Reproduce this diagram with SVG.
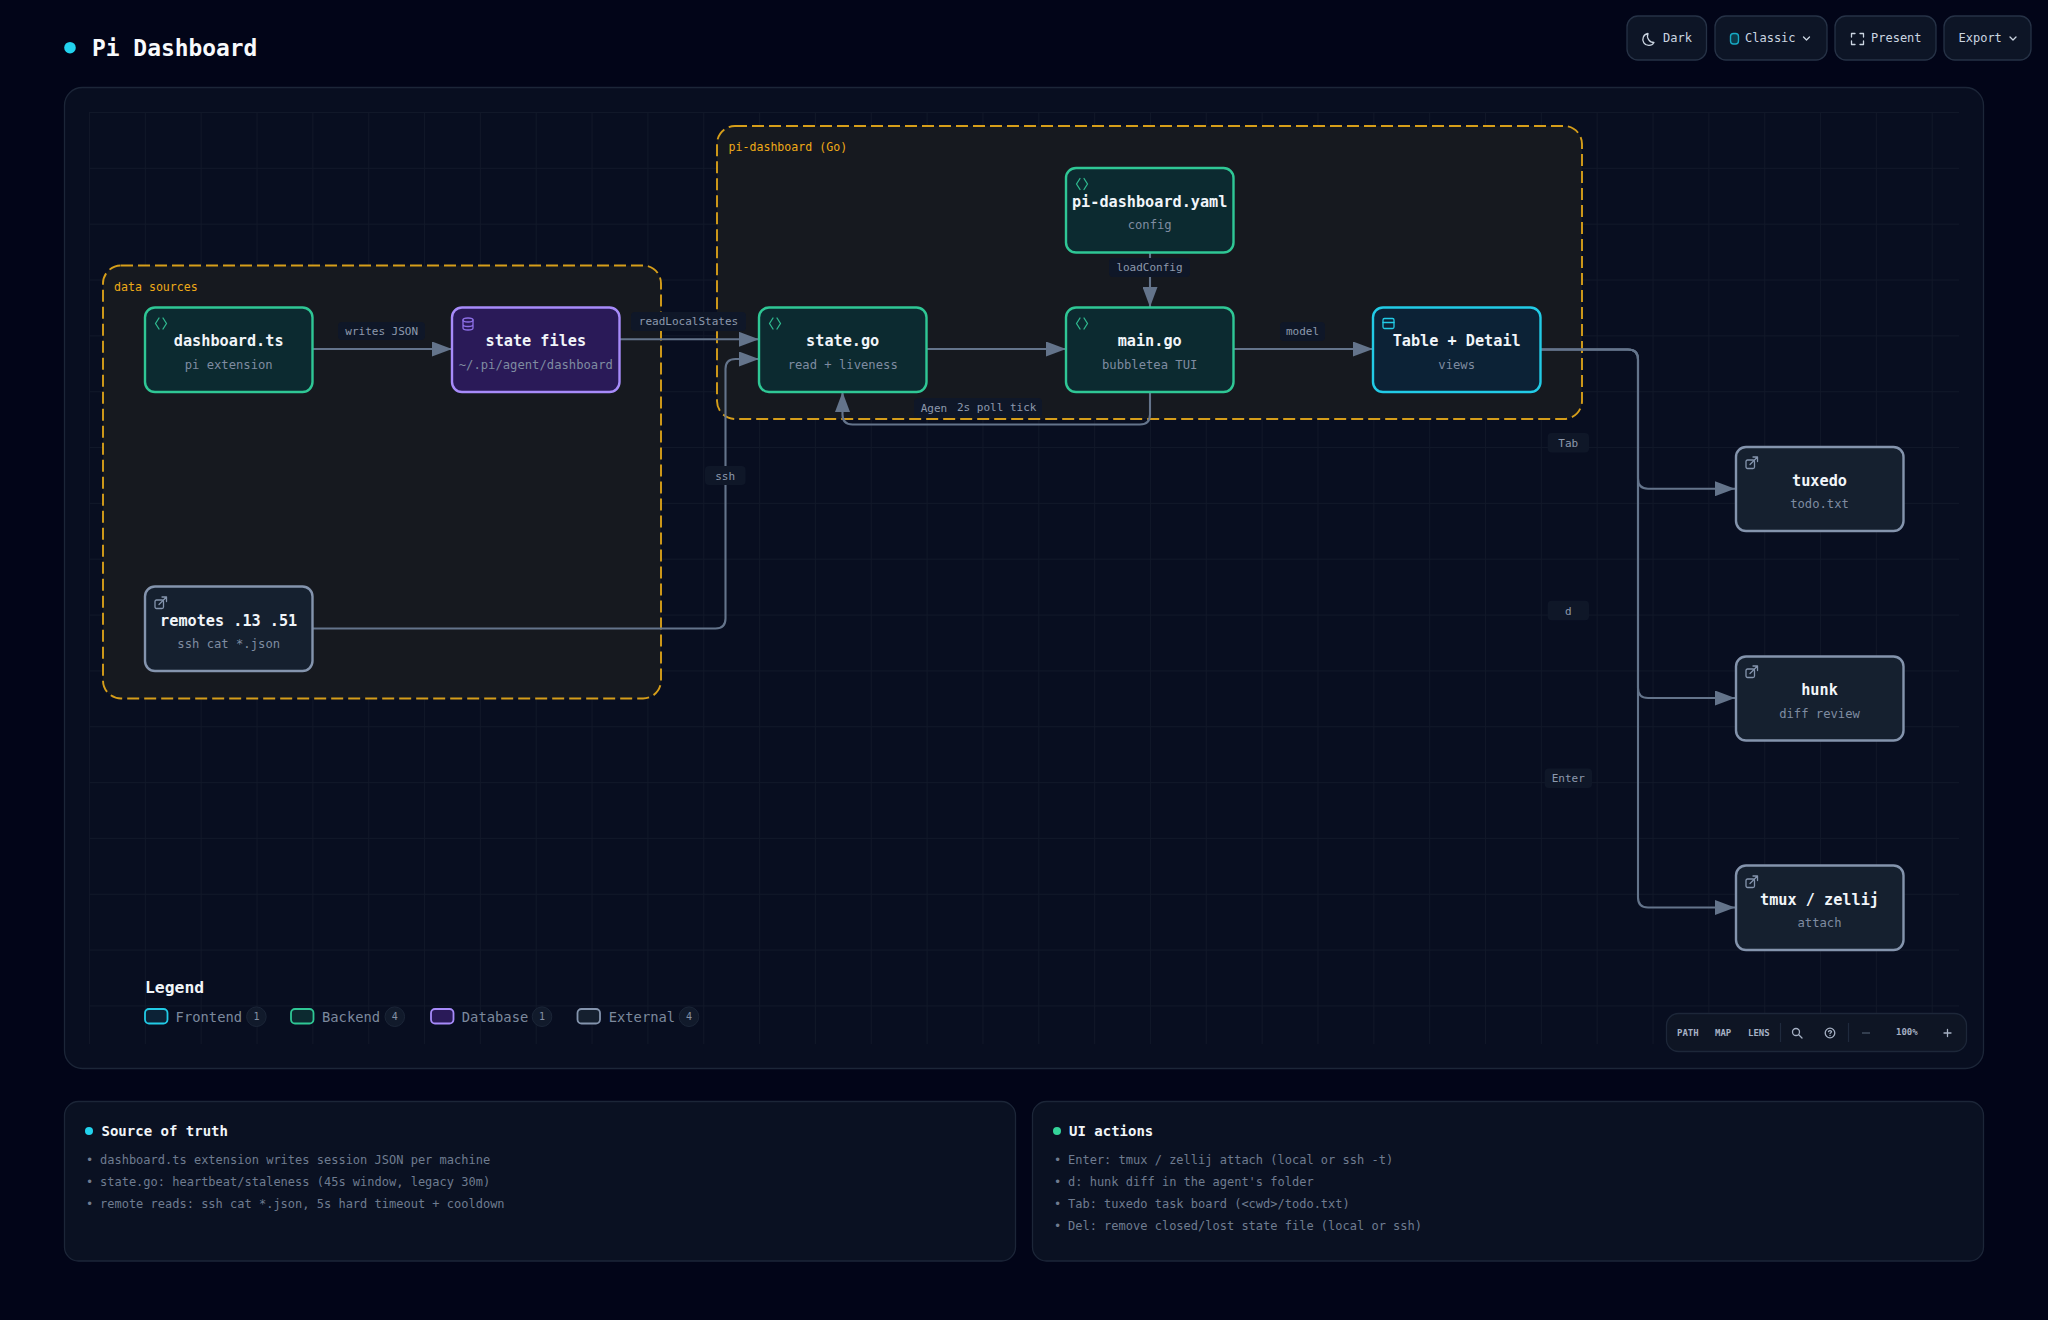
<svg xmlns="http://www.w3.org/2000/svg" xmlns:xlink="http://www.w3.org/1999/xlink" width="2048" height="1320" viewBox="0 0 2048 1320">
<style>
text{font-family:"DejaVu Sans Mono","Liberation Mono",monospace}
.panel{fill:#080e20;stroke:#1c2638;stroke-width:1.3}
.card{fill:#0a1122;stroke:#1c2638;stroke-width:1.3}
.btn{fill:#0d1526;stroke:#263246;stroke-width:1.3}
.btnt{font-size:12px;font-weight:500;fill:#cbd5e1}
.group{fill:#16191f;stroke:#d69e1a;stroke-width:1.9;stroke-dasharray:12 5}
.gl{font-size:11.6px;fill:#eeaa18}
.n{stroke-width:2.4}
.be{fill:#0c2a30;stroke:#2fc795}
.db{fill:#2a1a58;stroke:#a78bfa}
.ex{fill:#15202f;stroke:#8494ad}
.fe{fill:#0c2236;stroke:#22cbe6}
.t{font-size:15.2px;font-weight:700;fill:#f1f5f9;text-anchor:middle}
.s{font-size:12.2px;fill:#7f8ca1;text-anchor:middle}
.c{fill:none;stroke:#64748b;stroke-width:2.1;marker-end:url(#a)}
.lb{fill:#0f1728}
.lt{font-size:11px;fill:#8d99ad;text-anchor:middle}
.ic{fill:none;stroke-width:1.3;stroke-linecap:round;stroke-linejoin:round}
.ct{font-size:14px;font-weight:700;fill:#f1f5f9}
.li{font-size:12px;fill:#6f7c90}
.lg{font-size:13.8px;fill:#7c899d}
.bd{fill:#111a2b;stroke:#1b2537}
.bt{font-size:10px;fill:#8591a5;text-anchor:middle}
.sw{stroke-width:1.8}
.tb{font-size:9px;font-weight:700;fill:#a6b1c4}
.ti{fill:none;stroke:#a6b1c4;stroke-width:1.3;stroke-linecap:round}
</style>
<defs>
<marker id="a" markerUnits="userSpaceOnUse" markerWidth="20" markerHeight="15" refX="20" refY="7.5" orient="auto"><path d="M0 0L20 7.5L0 15Z" fill="#64748b"/></marker>
<pattern id="grid" patternUnits="userSpaceOnUse" x="89" y="112" width="55.84" height="55.84"><path d="M55.84 0H0V55.84" fill="none" stroke="#111829" stroke-width="1.800"/></pattern>
<g id="code"><path d="M4 0L0.500 5.500L4 11M8 0L11.500 5.500L8 11"/></g>
<g id="ext"><rect x="0" y="3" width="8.500" height="8.500" rx="1.500"/><path d="M4 7.500L11.500 0M7 0H11.500V4.500"/></g>
</defs>
<rect width="2048" height="1320" fill="#020518"/>

<g id="header">
<circle cx="70" cy="47.700" r="5.800" fill="#22d3ee"/>
<text x="92" y="56" font-size="22.900" font-weight="700" fill="#f8fafc">Pi Dashboard</text>
</g>
<g id="toolbar-top">
<rect class="btn" x="1627" y="16" width="79.500" height="44" rx="11"/>
<path class="ic" stroke="#cbd5e1" d="M1648 33.500A6 6 0 1 0 1654 42.500A6.500 6.500 0 0 1 1648 33.500Z"/>
<text class="btnt" x="1663" y="42">Dark</text>
<rect class="btn" x="1715" y="16" width="112" height="44" rx="11"/>
<rect x="1730.500" y="33.500" width="8" height="10.500" rx="3" fill="#0b3a4a" stroke="#17a9c4" stroke-width="1.400"/>
<text class="btnt" x="1745" y="42">Classic</text>
<path class="ic" stroke="#cbd5e1" d="M1803.500 37L1806.500 40L1809.500 37"/>
<rect class="btn" x="1835" y="16" width="101" height="44" rx="11"/>
<path class="ic" stroke="#cbd5e1" d="M1851.500 37V33.500H1855M1860 33.500H1863.500V37M1863.500 41V44.500H1860M1855 44.500H1851.500V41"/>
<text class="btnt" x="1871" y="42">Present</text>
<rect class="btn" x="1944" y="16" width="87" height="44" rx="11"/>
<text class="btnt" x="1958.500" y="42">Export</text>
<path class="ic" stroke="#cbd5e1" d="M2010 37L2013 40L2016 37"/>
</g>

<g id="canvas">
<rect class="panel" x="64.500" y="87.500" width="1919" height="981" rx="18"/>
<rect x="89" y="112" width="1870" height="932" fill="url(#grid)"/>
</g>

<g id="group-data-sources"><rect class="group" x="103" y="265.500" width="558" height="433" rx="18"/><text class="gl" x="114" y="291">data sources</text></g>
<g id="group-pi-dashboard"><rect class="group" x="717" y="126" width="865" height="293" rx="18"/><text class="gl" x="728.500" y="151">pi-dashboard (Go)</text></g>

<g id="connectors">
<path class="c" d="M313 349H452"/>
<path class="c" d="M620 339.300H759"/>
<path class="c" d="M313 628.500H715.500Q725.500 628.500 725.500 618.500V369Q725.500 359 735.500 359H759"/>
<path class="c" d="M926 349H1066"/>
<path class="c" d="M1150 252V307"/>
<path class="c" d="M1233 349H1373"/>
<path class="c" d="M1150 392V414.500Q1150 424.500 1140 424.500H852.500Q842.500 424.500 842.500 414.500V392"/>
<path class="c" d="M1540 349.500H1628Q1638 349.500 1638 359.500V478.500Q1638 488.700 1648 488.700H1735"/>
<path class="c" d="M1540 349.500H1628Q1638 349.500 1638 359.500V688Q1638 698 1648 698H1735"/>
<path class="c" d="M1540 349.500H1628Q1638 349.500 1638 359.500V897.500Q1638 907.500 1648 907.500H1735"/>
<g id="edge-labels">
<rect class="lb" x="338" y="322" width="87" height="18" rx="4"/><text class="lt" x="381.700" y="335">writes JSON</text>
<rect class="lb" x="631" y="312" width="115" height="19" rx="4"/><text class="lt" x="688.500" y="325">readLocalStates</text>
<rect class="lb" x="1109" y="258" width="81" height="19" rx="4"/><text class="lt" x="1149.500" y="271">loadConfig</text>
<rect class="lb" x="1280" y="322" width="45" height="19" rx="4"/><text class="lt" x="1302.500" y="335">model</text>
<rect class="lb" x="914" y="398" width="128" height="19.500" rx="4"/><text class="lt" x="934" y="412">Agen</text><text class="lt" x="996.700" y="411">2s poll tick</text>
<rect class="lb" x="705" y="466" width="40.500" height="19" rx="4"/><text class="lt" x="725.200" y="480">ssh</text>
<rect class="lb" x="1547.700" y="433" width="41.300" height="19.500" rx="4"/><text class="lt" x="1568.300" y="447">Tab</text>
<rect class="lb" x="1547.700" y="600.700" width="41.300" height="19.500" rx="4"/><text class="lt" x="1568.300" y="614.500">d</text>
<rect class="lb" x="1544.700" y="768.500" width="47.300" height="19.500" rx="4"/><text class="lt" x="1568.300" y="782">Enter</text>
</g>
</g>

<g id="node-dashboard-ts"><rect class="n be" x="145" y="307.500" width="167.500" height="84.500" rx="10"/><use href="#code" x="155" y="318" class="ic" stroke="#2fb98f"/><text class="t" x="228.700" y="346">dashboard.ts</text><text class="s" x="228.700" y="369">pi extension</text></g>
<g id="node-state-files"><rect class="n db" x="452" y="307.500" width="167.500" height="84.500" rx="10"/><g class="ic" stroke="#8d6fe6"><ellipse cx="468" cy="320" rx="5" ry="2"/><path d="M463 320V328Q463 330 468 330T473 328V320M463 324.500Q463 326.500 468 326.500T473 324.500"/></g><text class="t" x="535.800" y="346">state files</text><text class="s" x="535.800" y="369">~/.pi/agent/dashboard</text></g>
<g id="node-state-go"><rect class="n be" x="759" y="307.500" width="167.500" height="84.500" rx="10"/><use href="#code" x="769" y="318" class="ic" stroke="#2fb98f"/><text class="t" x="842.700" y="346">state.go</text><text class="s" x="842.700" y="369">read + liveness</text></g>
<g id="node-main-go"><rect class="n be" x="1066" y="307.500" width="167.500" height="84.500" rx="10"/><use href="#code" x="1076" y="318" class="ic" stroke="#2fb98f"/><text class="t" x="1149.700" y="346">main.go</text><text class="s" x="1149.700" y="369">bubbletea TUI</text></g>
<g id="node-pi-dashboard-yaml"><rect class="n be" x="1066" y="168" width="167.500" height="84.500" rx="10"/><use href="#code" x="1076" y="178.500" class="ic" stroke="#2fb98f"/><text class="t" x="1149.700" y="207">pi-dashboard.yaml</text><text class="s" x="1149.700" y="229">config</text></g>
<g id="node-table-detail"><rect class="n fe" x="1373" y="307.500" width="167.500" height="84.500" rx="10"/><g class="ic" stroke="#22cbe6"><rect x="1383" y="318.500" width="11" height="10" rx="1.500"/><path d="M1383 322.500H1394"/></g><text class="t" x="1456.700" y="346">Table + Detail</text><text class="s" x="1456.700" y="369">views</text></g>
<g id="node-remotes"><rect class="n ex" x="145" y="586.500" width="167.500" height="84.500" rx="10"/><use href="#ext" x="155" y="597" class="ic" stroke="#8494ad"/><text class="t" x="228.700" y="626">remotes .13 .51</text><text class="s" x="228.700" y="648">ssh cat *.json</text></g>
<g id="node-tuxedo"><rect class="n ex" x="1736" y="447" width="167.500" height="84" rx="10"/><use href="#ext" x="1746" y="457" class="ic" stroke="#8494ad"/><text class="t" x="1819.500" y="486">tuxedo</text><text class="s" x="1819.500" y="508">todo.txt</text></g>
<g id="node-hunk"><rect class="n ex" x="1736" y="656.500" width="167.500" height="84" rx="10"/><use href="#ext" x="1746" y="666" class="ic" stroke="#8494ad"/><text class="t" x="1819.500" y="695">hunk</text><text class="s" x="1819.500" y="718">diff review</text></g>
<g id="node-tmux-zellij"><rect class="n ex" x="1736" y="865.500" width="167.500" height="84.500" rx="10"/><use href="#ext" x="1746" y="876" class="ic" stroke="#8494ad"/><text class="t" x="1819.500" y="905">tmux / zellij</text><text class="s" x="1819.500" y="927">attach</text></g>

<g id="legend">
<text x="145" y="993" font-size="16.400" font-weight="600" fill="#f1f5f9">Legend</text>
<rect class="sw fe" x="145" y="1009" width="22.500" height="14.500" rx="4"/><text class="lg" x="175.600" y="1022">Frontend</text><circle class="bd" cx="256.400" cy="1016.700" r="9.800"/><text class="bt" x="256.400" y="1020">1</text>
<rect class="sw be" x="291" y="1009" width="22.500" height="14.500" rx="4"/><text class="lg" x="322" y="1022">Backend</text><circle class="bd" cx="394.800" cy="1016.700" r="9.800"/><text class="bt" x="394.800" y="1020">4</text>
<rect class="sw db" x="431" y="1009" width="22.500" height="14.500" rx="4"/><text class="lg" x="461.800" y="1022">Database</text><circle class="bd" cx="542" cy="1016.700" r="9.800"/><text class="bt" x="542" y="1020">1</text>
<rect class="sw ex" x="577.500" y="1009" width="22.500" height="14.500" rx="4"/><text class="lg" x="608.700" y="1022">External</text><circle class="bd" cx="689" cy="1016.700" r="9.800"/><text class="bt" x="689" y="1020">4</text>
</g>

<g id="toolbar-bottom">
<rect x="1666.500" y="1013.500" width="300" height="38" rx="12" fill="#0e1524" stroke="#1d2739" stroke-width="1.300"/>
<text class="tb" x="1677" y="1036">PATH</text><text class="tb" x="1715" y="1036">MAP</text><text class="tb" x="1748" y="1036">LENS</text>
<path d="M1780.500 1023V1042M1848.500 1023V1042" stroke="#1f2a3d" stroke-width="1.200"/>
<circle class="ti" cx="1796" cy="1032" r="3.500"/><path class="ti" d="M1799 1035L1802 1038"/>
<circle class="ti" cx="1830" cy="1033" r="4.800"/><path class="ti" d="M1828.500 1031.500Q1830 1029.800 1831.500 1031.500Q1831.500 1032.500 1830 1033.500M1830 1035.500V1035.600"/>
<path d="M1862 1033H1870" stroke="#4a5568" stroke-width="1.300"/>
<text class="tb" x="1896" y="1035" font-weight="500">100%</text>
<path class="ti" d="M1944 1033H1951M1947.500 1029.500V1036.500"/>
</g>

<g id="card-source">
<rect class="card" x="64.500" y="1101.500" width="951" height="159.500" rx="14"/>
<circle cx="89" cy="1131" r="4" fill="#22d3ee"/>
<text class="ct" x="101.500" y="1135.500">Source of truth</text>
<text class="li" x="86" y="1164">•</text><text class="li" x="100" y="1164">dashboard.ts extension writes session JSON per machine</text>
<text class="li" x="86" y="1186">•</text><text class="li" x="100" y="1186">state.go: heartbeat/staleness (45s window, legacy 30m)</text>
<text class="li" x="86" y="1208">•</text><text class="li" x="100" y="1208">remote reads: ssh cat *.json, 5s hard timeout + cooldown</text>
</g>
<g id="card-actions">
<rect class="card" x="1032.500" y="1101.500" width="951" height="159.500" rx="14"/>
<circle cx="1057" cy="1131" r="4" fill="#34d399"/>
<text class="ct" x="1069" y="1135.500">UI actions</text>
<text class="li" x="1054" y="1164">•</text><text class="li" x="1068" y="1164">Enter: tmux / zellij attach (local or ssh -t)</text>
<text class="li" x="1054" y="1186">•</text><text class="li" x="1068" y="1186">d: hunk diff in the agent's folder</text>
<text class="li" x="1054" y="1208">•</text><text class="li" x="1068" y="1208">Tab: tuxedo task board (&lt;cwd&gt;/todo.txt)</text>
<text class="li" x="1054" y="1230">•</text><text class="li" x="1068" y="1230">Del: remove closed/lost state file (local or ssh)</text>
</g>
</svg>
